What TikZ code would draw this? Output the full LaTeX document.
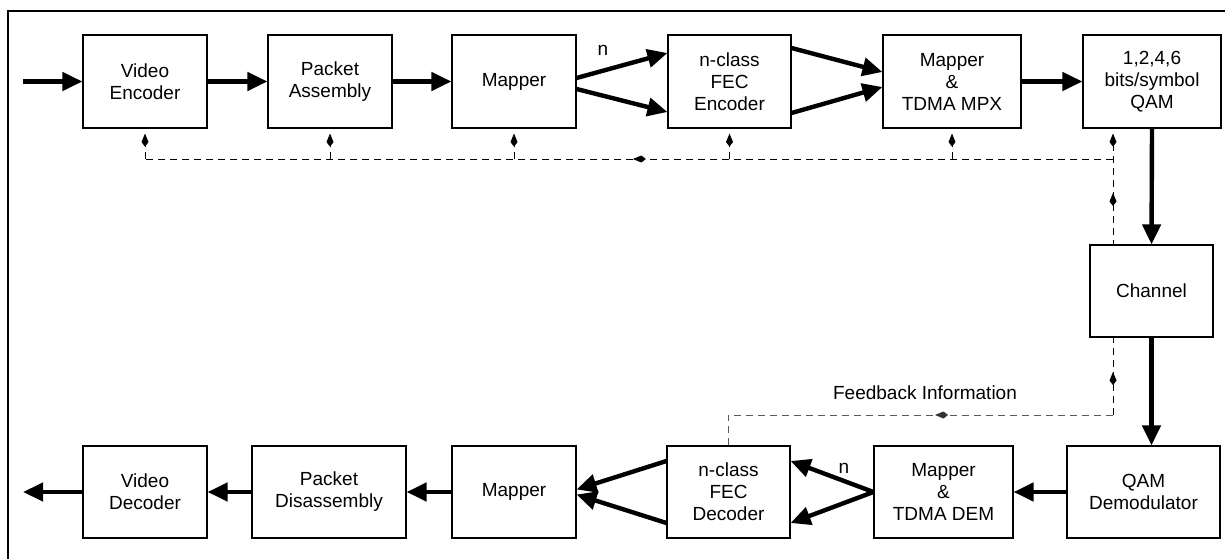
\documentclass[tikz,border=0pt]{standalone}
\usepackage{fontspec}
\setmainfont{Liberation Sans}
\usetikzlibrary{arrows.meta,decorations.markings,backgrounds}
\begin{document}
\begin{tikzpicture}[x=1pt,y=-1pt,
  blk/.style={draw, line width=1.1pt, fill=white, align=center, inner sep=0pt,
              font=\fontsize{19}{22}\selectfont},
  toprow/.style={blk, minimum height=93pt},
  botrow/.style={blk, minimum height=92pt},
  flow/.style={line width=4.4pt, -{Triangle[length=20pt,width=18pt]}},
  fb/.style={line width=0.9pt, dash pattern=on 7pt off 5pt},
  fbtip/.style={-{Kite[length=13pt,width=7pt,inset=4.5pt]}},
  lbl/.style={font=\fontsize{19}{22}\selectfont, inner sep=0pt}
]
\useasboundingbox (0,0) rectangle (1225,559);
\clip (0,0) rectangle (1225,559);
\draw[line width=1.2pt] (8,580) -- (8,11) -- (1240,11);

% top row
\node[toprow, minimum width=124pt] (VE)   at (145,81.5)   {Video\\Encoder};
\node[toprow, minimum width=124pt] (PA)   at (330,81.5)   {Packet\\Assembly};
\node[toprow, minimum width=124pt] (M1)   at (514,81.5)   {Mapper};
\node[toprow, minimum width=123pt] (FECE) at (729.5,81.5) {n-class\\FEC\\Encoder};
\node[toprow, minimum width=138pt] (MPX)  at (952,81.5)   {Mapper\\\&\\TDMA MPX};
\node[toprow, minimum width=138pt] (QAM)  at (1152,81.5)  {1,2,4,6\\bits/symbol\\QAM};
% channel
\node[blk, minimum width=123pt, minimum height=92pt] (CH) at (1151.5,291) {Channel};
% bottom row
\node[botrow, minimum width=124pt] (VD)    at (145,492)    {Video\\Decoder};
\node[botrow, minimum width=154pt] (PD)    at (329,492)    {Packet\\Disassembly};
\node[botrow, minimum width=124pt] (M2)    at (514,492)    {Mapper};
\node[botrow, minimum width=123pt] (FECD)  at (728.5,492)  {n-class\\FEC\\Decoder};
\node[botrow, minimum width=139pt] (DEM)   at (943.5,492)  {Mapper\\\&\\TDMA DEM};
\node[botrow, minimum width=153pt] (DEMOD) at (1143.5,492) {QAM\\Demodulator};

\node[lbl] (n1) at (603,50) {n};
\node[lbl] (n2) at (844,468) {n};
\node[lbl] (fbl) at (925,393) {Feedback Information};

% main flow
\coordinate (in) at (23,81.5);
\coordinate (out) at (23,492);
\draw[flow] (in) -- (VE.west);
\draw[flow] (VE) -- (PA);
\draw[flow] (PA) -- (M1);
\draw[flow] ([yshift=3.5pt]M1.east) -- ([yshift=28.5pt]FECE.west);
\draw[flow] ([yshift=-7.5pt]M1.east) -- ([yshift=-30.5pt]FECE.west);
\draw[flow] ([yshift=33.5pt]FECE.east) -- ([yshift=9.5pt]MPX.west);
\draw[flow] ([yshift=-31.5pt]FECE.east) -- ([yshift=-5.5pt]MPX.west);
\draw[flow] (MPX) -- (QAM);
\draw[flow] (QAM.south) -- (CH.north);
\draw[flow] (CH.south) -- (CH.south |- DEMOD.north);
\draw[flow] (DEMOD) -- (DEM);
\draw[flow] (DEM.west) -- ([yshift=31pt]FECD.east);
\draw[flow] (DEM.west) -- ([yshift=-31pt]FECD.east);
\draw[flow] ([yshift=31pt]FECD.west) -- ([yshift=2.5pt]M2.east);
\draw[flow] ([yshift=-31pt]FECD.west) -- ([yshift=-2.5pt]M2.east);
\draw[flow] (M2) -- (PD);
\draw[flow] (PD) -- (VD);
\draw[flow] (VD.west) -- (out);

% feedback
\coordinate (fbR) at (1113,159);
\coordinate (fbL) at (145,159);
\coordinate (fbB) at (1113,415);
\coordinate (fbC) at (728,415);
\begin{scope}[on background layer]
\draw[fb, fbtip, shorten >=5pt,
  decoration={markings,
    mark=at position 43pt with {\arrow{Kite[length=13pt,width=7pt,inset=4.5pt]}},
    mark=at position 222pt with {\arrow{Kite[length=13pt,width=7pt,inset=4.5pt]}}},
  postaction={decorate}]
  (fbB) -- (fbB |- QAM.south);
\end{scope}
\draw[fb,
  decoration={markings,
    mark=at position 0.496 with {\arrow{Kite[length=13pt,width=7pt,inset=4.5pt]}}},
  postaction={decorate}]
  (fbR) -- (fbL);
\draw[fb, black!65,
  decoration={markings,
    mark=at position 178pt with {\arrow[black!80]{Kite[length=13pt,width=7pt,inset=4.5pt]}}},
  postaction={decorate}]
  (fbB) -- (fbC) -- (FECD.north -| fbC);
\draw[fb, fbtip, shorten >=5pt] (fbL) -- (VE.south);
\draw[fb, fbtip, shorten >=5pt] (PA.south |- fbL) -- (PA.south);
\draw[fb, fbtip, shorten >=5pt] (M1.south |- fbL) -- (M1.south);
\draw[fb, fbtip, shorten >=5pt] (FECE.south |- fbL) -- (FECE.south);
\draw[fb, fbtip, shorten >=5pt] (MPX.south |- fbL) -- (MPX.south);
\end{tikzpicture}
\end{document}
